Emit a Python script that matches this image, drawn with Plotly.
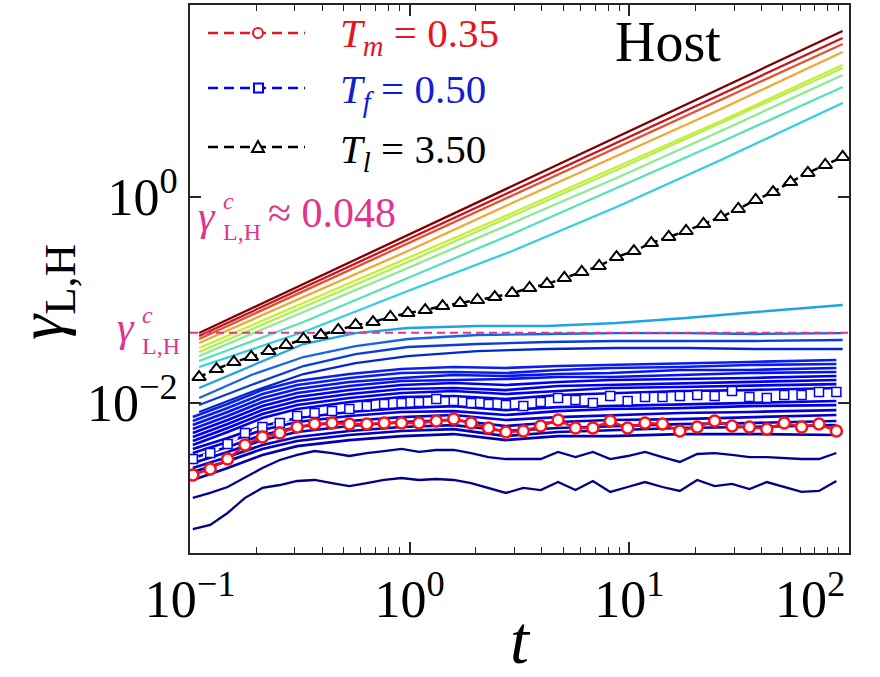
import math
import plotly.graph_objects as go

# ---------------- time grids ----------------
T_A = [0.103, 0.1236, 0.1483, 0.178, 0.2136, 0.2563, 0.3076, 0.3691, 0.4429, 0.5315,
       0.6378, 0.7653, 0.9184, 1.102, 1.322, 1.587, 1.904, 2.285, 2.742, 3.291,
       3.949, 4.739, 5.686, 6.823, 8.188, 9.826, 11.79, 14.15, 16.98, 20.37,
       24.45, 29.34, 35.21, 42.25, 50.70, 60.84, 73.01, 87.61]
T_B = [0.110, 0.132, 0.1584, 0.1901, 0.2281, 0.2737, 0.3285, 0.3942, 0.4730, 0.5676,
       0.6811, 0.8173, 0.9808, 1.177, 1.412, 1.695, 2.034, 2.440, 2.929, 3.514,
       4.217, 5.061, 6.073, 7.287, 8.745, 10.49, 12.59, 15.11, 18.13, 21.76,
       26.11, 31.33, 37.60, 45.12, 54.15, 64.97, 77.97, 93.56]
T_HI = [0.110, 0.3285, 0.9808, 2.929, 8.745, 26.11, 93.56]
T_MID = [0.110, 0.1901, 0.3285, 0.5676, 0.9808, 2.034, 4.217, 8.745, 18.13, 37.60, 93.56]
T_LO = [0.103, 0.1483, 0.2136, 0.3076, 0.5315, 0.9184, 1.587, 2.742, 4.739, 8.188, 16.98, 35.21, 87.61]

GAMMA_C = 0.048

# ---------------- high-temperature (growing) lines ----------------
HOT_1 = [0.0478, 0.1430, 0.4277, 1.279, 3.825, 11.43, 40.9]
HOT_2 = [0.0447, 0.1319, 0.3894, 1.149, 3.389, 10.02, 34.98]
HOT_3 = [0.0418, 0.1220, 0.3560, 1.039, 3.038, 8.86, 30.58]
HOT_4 = [0.03825, 0.1069, 0.2990, 0.8744, 2.501, 7.152, 25.57]
HOT_5 = [0.0342, 0.0935, 0.2557, 0.6995, 1.956, 5.468, 19.12]
HOT_6 = [0.03127, 0.0855, 0.2338, 0.6539, 1.829, 5.229, 17.88]
HOT_7 = [0.02859, 0.07646, 0.2045, 0.5594, 1.529, 4.373, 15.29]
HOT_8 = [0.02557, 0.06115, 0.1635, 0.4373, 1.223, 3.420, 11.69]
HOT_9 = [0.02236, 0.0489, 0.1223, 0.2990, 0.7997, 2.287, 8.178]
HOT_COLORS = ["#7f0000", "#c8141e", "#e8502a", "#f2a830", "#c8ee30",
              "#b0f050", "#8ceb8c", "#58e0b8", "#30d0dc"]

# ---------------- near-critical lines ----------------
MID_1 = [0.01398, 0.02286, 0.03740, 0.0478, 0.05349, 0.05593, 0.05593, 0.05979, 0.06686, 0.07646, 0.08941]
MID_2 = [0.01118, 0.01870, 0.02797, 0.03576, 0.04182, 0.04573, 0.04676, 0.0478, 0.0478, 0.04676, 0.0478]
MID_3 = [0.00956, 0.01495, 0.02286, 0.02990, 0.03497, 0.0374, 0.03911, 0.03999, 0.03999, 0.03999, 0.04090]
MID_4 = [0.00818, 0.01279, 0.01912, 0.02445, 0.02859, 0.03197, 0.03344, 0.0342, 0.0342, 0.03344, 0.03344]
MID_COLORS = ["#1ea3e6", "#1464e6", "#0a3cdc", "#0028d2"]

# ---------------- low-temperature (plateau) lines ----------------
COLD_1 = [0.00731, 0.00978, 0.01337, 0.01636, 0.01913, 0.02139, 0.02237, 0.02188, 0.02288, 0.02339, 0.02446, 0.02502, 0.02616]
COLD_2 = [0.00669, 0.00894, 0.01223, 0.01496, 0.01749, 0.01956, 0.02000, 0.01956, 0.02092, 0.02188, 0.02237, 0.02339, 0.02392]
COLD_3 = [0.00611, 0.00818, 0.01118, 0.01368, 0.01600, 0.01749, 0.01871, 0.01829, 0.01913, 0.01956, 0.02092, 0.02092, 0.02188]
COLD_4 = [0.00559, 0.00748, 0.01023, 0.01251, 0.01463, 0.01636, 0.01673, 0.01711, 0.01789, 0.01789, 0.01871, 0.01956, 0.02000]
COLD_5 = [0.00511, 0.00684, 0.00935, 0.01144, 0.01337, 0.01496, 0.01564, 0.01496, 0.01600, 0.01673, 0.01711, 0.01749, 0.01829]
COLD_6 = [0.00468, 0.00625, 0.00855, 0.01046, 0.01223, 0.01368, 0.01399, 0.01337, 0.01463, 0.01496, 0.01564, 0.01600, 0.01673]
COLD_7 = [0.00428, 0.00572, 0.00782, 0.00956, 0.01118, 0.01251, 0.01308, 0.01223, 0.01308, 0.01399, 0.01430, 0.01463, 0.01529]
COLD_8 = [0.00391, 0.00523, 0.00715, 0.00875, 0.01023, 0.01144, 0.01170, 0.01094, 0.01196, 0.01251, 0.01308, 0.01337, 0.01399]
COLD_9 = [0.00358, 0.00457, 0.00598, 0.00715, 0.00818, 0.00894, 0.00935, 0.00855, 0.00914, 0.00935, 0.00978, 0.01000, 0.01046]
COLD_10 = [0.00327, 0.00418, 0.00547, 0.00654, 0.00748, 0.00818, 0.00836, 0.00765, 0.00836, 0.00875, 0.00894, 0.00935, 0.00956]
COLD_11 = [0.00292, 0.00374, 0.00489, 0.00585, 0.00669, 0.00731, 0.00765, 0.00684, 0.00731, 0.00765, 0.00800, 0.00818, 0.00855]
COLD_12 = [0.00261, 0.00334, 0.00437, 0.00523, 0.00598, 0.00654, 0.00684, 0.00598, 0.00654, 0.00684, 0.00699, 0.00731, 0.00765]
COLD_13 = [0.00234, 0.00299, 0.00391, 0.00468, 0.00535, 0.00585, 0.00611, 0.00535, 0.00572, 0.00598, 0.00625, 0.00639, 0.00669]
COLD_14 = [0.00214, 0.00273, 0.00358, 0.00428, 0.00489, 0.00535, 0.00559, 0.00478, 0.00523, 0.00547, 0.00572, 0.00585, 0.00611]
COLD_15 = [0.00179, 0.00234, 0.00313, 0.00382, 0.00437, 0.00478, 0.00500, 0.00437, 0.00478, 0.00478, 0.00500, 0.00500, 0.00489]
COLD_COLORS = ["#0a1ef0", "#0a1ef0", "#0514f0", "#0514f0", "#0000f0", "#0000f0", "#0000ea",
               "#0000ea", "#0000e0", "#0000e0", "#0000d8", "#0000d0", "#0000c8", "#0000c0", "#0000b0"]

# lowest two (full time grid)
NAVY_1 = [0.00120, 0.00134, 0.00153, 0.00191, 0.00234, 0.00280, 0.00313, 0.00342, 0.00327, 0.00306,
          0.00327, 0.00342, 0.00358, 0.00335, 0.00350, 0.00350, 0.00327, 0.00299, 0.00286, 0.00286,
          0.00286, 0.00335, 0.00299, 0.00335, 0.00286, 0.00306, 0.00335, 0.00299, 0.00268, 0.00320,
          0.00327, 0.00313, 0.00299, 0.00299, 0.00292, 0.00286, 0.00286, 0.00327]
NAVY_2 = [0.000598, 0.000655, 0.000856, 0.00120, 0.00150, 0.00160, 0.00175, 0.00179, 0.00167, 0.00156,
          0.00167, 0.00179, 0.00187, 0.00179, 0.00183, 0.00179, 0.00167, 0.00150, 0.00134, 0.00150,
          0.00143, 0.00171, 0.00143, 0.00175, 0.00137, 0.00153, 0.00171, 0.00153, 0.00140, 0.00179,
          0.00156, 0.00164, 0.00146, 0.00171, 0.00153, 0.00137, 0.00140, 0.00175]

# ---------------- highlighted series ----------------
GAMMA_TM = [0.00200, 0.00229, 0.00286, 0.00391, 0.00468, 0.00512, 0.00585, 0.00625, 0.00640, 0.00625,
            0.00625, 0.00640, 0.00640, 0.00640, 0.00669, 0.00700, 0.00640, 0.00572, 0.00523, 0.00535,
            0.00598, 0.00684, 0.00572, 0.00572, 0.00669, 0.00572, 0.00640, 0.00625, 0.00535, 0.00585,
            0.00669, 0.00598, 0.00585, 0.00560, 0.00640, 0.00585, 0.00625, 0.00535]
GAMMA_TF = [0.00286, 0.00327, 0.00400, 0.00512, 0.00585, 0.00640, 0.00748, 0.00800, 0.00836, 0.00875,
            0.00935, 0.00978, 0.0100, 0.01023, 0.01094, 0.01046, 0.0100, 0.00978, 0.00957, 0.00935,
            0.01023, 0.01119, 0.01069, 0.0100, 0.01170, 0.01046, 0.01143, 0.01143, 0.01170, 0.01197,
            0.01170, 0.01309, 0.01143, 0.01119, 0.01197, 0.01197, 0.01279, 0.01279]
GAMMA_TL = [0.01788, 0.02138, 0.02500, 0.02799, 0.03200, 0.03658, 0.04182, 0.04573, 0.05116, 0.05719,
            0.06113, 0.06839, 0.07476, 0.07994, 0.08744, 0.09350, 0.1000, 0.1069, 0.1169, 0.1308,
            0.1430, 0.1636, 0.1871, 0.2139, 0.2614, 0.2990, 0.3574, 0.4090, 0.4677, 0.5470,
            0.6396, 0.7646, 0.9353, 1.118, 1.398, 1.711, 2.045, 2.445]

X_TICKS = [0.1, 1, 10, 100]
X_TICKTEXT = ["10<sup>−1</sup>", "10<sup>0</sup>", "10<sup>1</sup>",
              "10<sup>2</sup>\u2007\u2007\u2007"]
X_MINOR = [0.2, 0.3, 0.4, 0.5, 0.6, 0.7, 0.8, 0.9, 2, 3, 4, 5, 6, 7, 8, 9,
           20, 30, 40, 50, 60, 70, 80, 90]
Y_TICKS = [0.01, 1]
Y_TICKTEXT = ["10<sup>−2</sup>", "10<sup>0</sup>"]
X_RANGE = [0.1, 100]

# ---------------- geometry helpers (layout only) ----------------
W, H = 880, 677
ML, MR, MT, MB = 190, 31, 5, 124
PW, PH = W - ML - MR, H - MT - MB


def px(x):
    return (x - ML) / PW


def py(y):
    return (H - MB - y) / PH


FONT = "Liberation Serif, DejaVu Serif, serif"
RED = "#e8141e"
BLUE = "#1020d0"
MAG = "#e2338e"

fig = go.Figure()


def add_line(x, y, color, width=2.0):
    fig.add_trace(go.Scatter(x=x, y=y, mode="lines", line=dict(color=color, width=width),
                             showlegend=False, hoverinfo="skip"))


cold = [COLD_1, COLD_2, COLD_3, COLD_4, COLD_5, COLD_6, COLD_7, COLD_8, COLD_9, COLD_10,
        COLD_11, COLD_12, COLD_13, COLD_14, COLD_15]
for vals, col in zip(cold, COLD_COLORS):
    add_line(T_LO, vals, col, 2.7)
add_line(T_A, NAVY_1, "#00009a", 2.3)
add_line(T_A, NAVY_2, "#000088", 2.3)

for vals, col in zip([MID_4, MID_3, MID_2, MID_1], MID_COLORS[::-1]):
    add_line(T_MID, vals, col, 2.3)
hot = [HOT_9, HOT_8, HOT_7, HOT_6, HOT_5, HOT_4, HOT_3, HOT_2, HOT_1]
for vals, col in zip(hot, HOT_COLORS[::-1]):
    add_line(T_HI, vals, col, 2.3)

# critical value line
fig.add_trace(go.Scatter(x=X_RANGE, y=[GAMMA_C, GAMMA_C], mode="lines",
                         line=dict(color=MAG, width=2, dash="8px,5px"),
                         showlegend=False, hoverinfo="skip"))

# T_f squares
fig.add_trace(go.Scatter(x=T_A, y=GAMMA_TF, mode="lines+markers",
                         line=dict(color="white", width=2.5, dash="6px,5px"),
                         marker=dict(symbol="square", size=9, color="white",
                                     line=dict(color="#0000ff", width=1.5)),
                         showlegend=False, hoverinfo="skip"))
# T_m circles
fig.add_trace(go.Scatter(x=T_A, y=GAMMA_TM, mode="lines+markers",
                         line=dict(color="#ff1010", width=2.5),
                         marker=dict(symbol="circle", size=11, color="white",
                                     line=dict(color="#ff1010", width=2.5)),
                         showlegend=False, hoverinfo="skip"))
# T_l triangles
fig.add_trace(go.Scatter(x=T_B, y=GAMMA_TL, mode="lines+markers",
                         line=dict(color="black", width=2.5, dash="7px,4px"),
                         marker=dict(symbol="triangle-up", size=12, color="white",
                                     line=dict(color="black", width=2)),
                         showlegend=False, hoverinfo="skip"))

# ---------------- legend (drawn manually) ----------------
shapes = []
legend_rows = [
    (33, RED, "circle", "<i>T</i><sub><i>m</i></sub> = 0.35", 36),
    (88, "#0000ff", "square", "<i>T</i><sub><i>f</i></sub> = 0.50", 92),
    (147, "black", "triangle", "<i>T</i><sub><i>l</i></sub> = 3.50", 152),
]
annotations = []
for ypx, col, mk, label, ytxt in legend_rows:
    shapes.append(dict(type="line", xref="paper", yref="paper", x0=px(208), x1=px(305),
                       y0=py(ypx), y1=py(ypx), line=dict(color=col, width=2.5, dash="10px,6px")))
    if mk == "circle":
        shapes.append(dict(type="circle", xref="paper", yref="paper", x0=px(253), x1=px(263),
                           y0=py(ypx + 5), y1=py(ypx - 5), fillcolor="white",
                           line=dict(color=col, width=2)))
    elif mk == "square":
        shapes.append(dict(type="rect", xref="paper", yref="paper", x0=px(254), x1=px(263),
                           y0=py(ypx + 4.5), y1=py(ypx - 4.5), fillcolor="white",
                           line=dict(color=col, width=2)))
    else:
        path = "M {:.5f},{:.5f} L {:.5f},{:.5f} L {:.5f},{:.5f} Z".format(
            px(258), py(ypx - 6), px(252), py(ypx + 5), px(264), py(ypx + 5))
        shapes.append(dict(type="path", xref="paper", yref="paper", path=path,
                           fillcolor="white", line=dict(color=col, width=2)))
    tcol = {"circle": RED, "square": BLUE, "triangle": "black"}[mk]
    annotations.append(dict(xref="paper", yref="paper", x=px(338), y=py(ytxt), text=label,
                            showarrow=False, xanchor="left", yanchor="middle",
                            font=dict(family=FONT, size=41, color=tcol)))

# Host label
annotations.append(dict(xref="paper", yref="paper", x=px(668), y=py(42), text="Host",
                        showarrow=False, xanchor="center", yanchor="middle",
                        font=dict(family=FONT, size=56, color="black")))

# gamma_c annotation inside plot
annotations += [
    dict(xref="paper", yref="paper", x=px(196), y=py(216), text="<i>γ</i>", showarrow=False,
         xanchor="left", yanchor="middle", font=dict(family=FONT, size=42, color=MAG)),
    dict(xref="paper", yref="paper", x=px(221), y=py(216), text="<i>c</i><br>L,H",
         showarrow=False, align="left", xanchor="left", yanchor="middle",
         font=dict(family=FONT, size=24, color=MAG)),
    dict(xref="paper", yref="paper", x=px(266), y=py(213), text="≈ 0.048", showarrow=False,
         xanchor="left", yanchor="middle", font=dict(family=FONT, size=42, color=MAG)),
]
# gamma_c label on left of axis
yc = math.log10(GAMMA_C)
annotations += [
    dict(xref="paper", yref="y", x=px(115), y=yc, yshift=6, text="<i>γ</i>", showarrow=False,
         xanchor="left", yanchor="middle", font=dict(family=FONT, size=42, color=MAG)),
    dict(xref="paper", yref="y", x=px(140), y=yc, yshift=2, text="<i>c</i><br>L,H",
         showarrow=False, align="left", xanchor="left", yanchor="middle",
         font=dict(family=FONT, size=24, color=MAG)),
]
# axis titles
annotations.append(dict(xref="paper", yref="paper", x=px(45), y=py(292),
                        text="<i>γ</i><sub>L,H</sub>", textangle=-90, showarrow=False,
                        xanchor="center", yanchor="middle",
                        font=dict(family=FONT, size=64, color="black")))
annotations.append(dict(xref="paper", yref="paper", x=px(520), y=py(640), text="<i>t</i>",
                        showarrow=False, xanchor="center", yanchor="middle",
                        font=dict(family=FONT, size=68, color="black")))

axis_common = dict(type="log", showline=True, mirror="allticks", linecolor="#262626", linewidth=2,
                   ticks="inside", ticklen=11, tickwidth=1.5, tickcolor="#262626",
                   showgrid=False, zeroline=False, tickmode="array",
                   ticklabeloverflow="allow", automargin=False,
                   tickfont=dict(family=FONT, size=52, color="black"))

fig.update_layout(
    width=W, height=H,
    margin=dict(l=ML, r=MR, t=MT, b=MB, autoexpand=False),
    paper_bgcolor="white", plot_bgcolor="white",
    showlegend=False,
    font=dict(family=FONT, color="black"),
    xaxis=dict(range=[-1, 2], tickvals=X_TICKS, ticktext=X_TICKTEXT,
               minor=dict(ticks="inside", ticklen=6, tickwidth=1.2, tickcolor="#262626",
                          tickvals=X_MINOR, showgrid=False),
               **axis_common),
    yaxis=dict(range=[-3.456, 1.864], tickvals=Y_TICKS, ticktext=Y_TICKTEXT, **axis_common),
    shapes=shapes,
    annotations=annotations,
)

fig.write_html("out.html")
